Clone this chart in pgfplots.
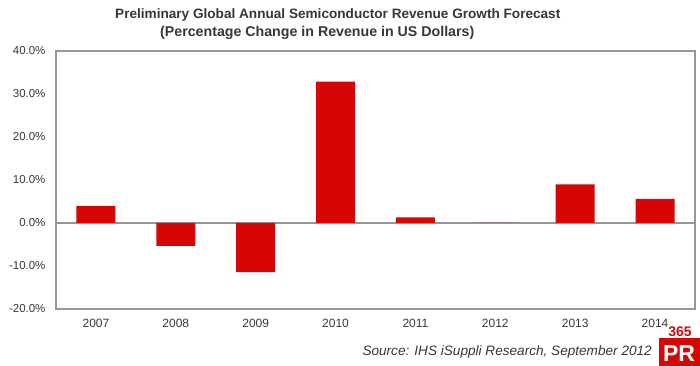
\documentclass[border=0pt]{standalone}
\usepackage{pgfplots}
\pgfplotsset{compat=1.18}
\usepackage{fontspec}
\setmainfont{Liberation Sans}
\definecolor{barred}{RGB}{214,6,6}
\definecolor{axgray}{RGB}{150,150,150}
\definecolor{txt}{RGB}{55,55,55}
\begin{document}
\begin{tikzpicture}[x=1pt,y=1pt]
\path[use as bounding box] (0,0) rectangle (700,366);
\begin{axis}[
  at={(56pt,57pt)}, anchor=south west,
  scale only axis, width=639pt, height=258pt,
  ybar, bar width=39pt,
  xmin=-0.5, xmax=7.5, ymin=-20, ymax=40,
  xtick={0,...,7},
  xticklabels={2007,2008,2009,2010,2011,2012,2013,2014},
  ytick={-20,-10,0,10,20,30,40},
  yticklabel={\pgfmathprintnumber[fixed,fixed zerofill,precision=1]{\tick}\%},
  /pgf/number format/assume math mode=true,
  major tick length=0pt,
  axis line style={axgray, line width=1.4pt},
  yticklabel style={font=\fontsize{11.5}{13}\selectfont, text=txt, xshift=-7pt},
  xticklabel style={font=\fontsize{12}{14}\selectfont, text=txt, yshift=-7pt},
  extra y ticks={0}, extra y tick labels={},
  extra y tick style={grid=major, major grid style={axgray, line width=1.4pt}},
]
\addplot[fill=barred, draw=none] coordinates {(0,4.0) (1,-5.3) (2,-11.4) (3,32.9) (4,1.3) (5,0.0) (6,9.0) (7,5.6)};
\end{axis}
\node[anchor=base west, inner sep=0pt, font=\bfseries\fontsize{13.6}{15}\selectfont, text=txt] at (115,347) {Preliminary Global Annual Semiconductor Revenue Growth Forecast};
\node[anchor=base west, inner sep=0pt, font=\bfseries\fontsize{14.2}{15}\selectfont, text=txt] at (160,329) {(Percentage Change in Revenue in US Dollars)};
\node[anchor=base east, inner sep=0pt, font=\itshape\fontsize{13.6}{15}\selectfont, text=txt] at (652,10) {Source: IHS iSuppli Research, September 2012};
\fill[barred] (659,0) rectangle (700,28);
\node[anchor=base, inner sep=0pt, font=\bfseries\fontsize{23}{23}\selectfont, text=white] at (679,4) {PR};
\node[anchor=base, inner sep=0pt, font=\bfseries\fontsize{14}{14}\selectfont, text=barred] at (680,29) {365};
\end{tikzpicture}
\end{document}
